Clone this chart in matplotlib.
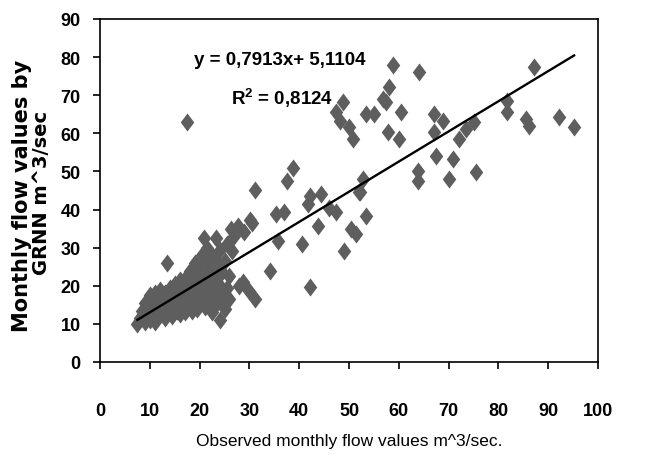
import matplotlib
matplotlib.use("Agg")
import matplotlib.pyplot as plt
import numpy as np
from matplotlib.path import Path

# ---- data ----
obs_low = [7.5, 8.0, 8.5, 9.0, 9.0, 9.5, 10.0, 10.0, 10.0, 10.5, 10.5, 11.0, 11.0, 11.0, 11.5, 11.5,
           12.0, 12.0, 12.0, 12.5, 13.0, 13.0, 13.0, 13.5, 13.5, 14.0, 14.0, 14.5, 14.5, 15.0, 15.0,
           15.5, 15.5, 16.0, 16.0, 16.0, 16.5, 16.5, 17.0, 17.0, 17.4, 17.5, 18.0, 18.0, 18.0, 18.5,
           18.5, 19.0, 19.0, 19.0, 19.5, 19.5, 20.0, 20.0, 20.0, 20.5, 20.8, 21.0, 21.0, 21.0, 21.5,
           21.5, 22.0, 22.0, 22.0, 22.5, 22.5, 23.0, 23.0, 23.3, 23.5, 23.5, 24.0, 24.0, 24.0, 24.5,
           24.5, 25.0, 25.0, 25.5, 25.5, 26.0, 26.0, 26.5, 26.3, 27.0, 27.7, 28.0, 28.8, 29.0, 30.0,
           30.2, 30.6, 31.2, 31.1]
grnn_low = [10.0, 11.5, 13.5, 10.5, 15.5, 12.5, 11.0, 14.0, 17.5, 12.5, 16.0, 10.5, 13.5, 18.0, 15.0, 11.5,
            12.5, 16.5, 19.0, 14.0, 11.5, 15.5, 18.0, 26.0, 13.0, 16.5, 19.5, 12.0, 14.5, 17.5, 20.5,
            13.5, 15.5, 12.5, 18.5, 21.5, 14.5, 16.5, 20.0, 13.0, 62.9, 22.5, 15.5, 17.5, 24.0, 13.5,
            20.0, 16.0, 22.0, 26.0, 18.5, 14.0, 20.5, 24.5, 16.5, 28.0, 32.5, 18.0, 22.5, 14.5, 26.5,
            30.0, 16.0, 20.0, 24.0, 28.0, 13.0, 18.0, 22.0, 32.5, 26.0, 15.5, 11.0, 20.0, 29.5, 17.0,
            23.5, 14.0, 26.5, 19.5, 31.0, 16.5, 22.5, 29.0, 35.0, 33.0, 35.8, 20.0, 21.0, 34.0, 18.5,
            37.2, 36.5, 16.5, 45.2]

obs_mid = [34.2, 35.4, 35.7, 36.9, 37.5, 38.7, 40.6, 41.8, 42.1, 42.1, 43.7, 44.3, 46.0, 47.4,
           48.9, 50.5, 51.5, 52.3, 53.5, 52.8]
grnn_mid = [23.8, 38.8, 31.8, 39.3, 47.5, 51.0, 31.0, 41.5, 19.6, 43.6, 35.8, 44.0, 40.5, 39.3,
            29.2, 34.9, 33.5, 44.5, 38.4, 48.0]

obs_high = [58.8, 64.1, 87.2, 48.8, 47.4, 48.1, 50.1, 50.8, 53.4, 55.1, 57.4, 58.1, 56.8, 60.4,
            57.8, 60.1, 67.1, 68.8, 67.1, 67.5, 70.8, 70.1, 72.1, 73.5, 75.2, 75.5, 81.8, 81.8,
            85.5, 86.2, 92.2, 95.2, 63.8, 63.8, 52.1]
grnn_high = [77.8, 76.0, 77.3, 68.2, 65.5, 63.3, 61.6, 58.5, 65.1, 65.1, 68.2, 72.1, 69.0, 65.5,
             60.3, 58.5, 65.1, 63.3, 60.3, 54.1, 53.3, 48.0, 58.5, 61.2, 62.9, 49.8, 68.6, 65.5,
             63.8, 62.0, 64.2, 61.6, 50.2, 47.6, 44.6]

observed = np.array(obs_low + obs_mid + obs_high)
predicted = np.array(grnn_low + grnn_mid + grnn_high)

slope = 0.7913
intercept = 5.1104
equation = "y = 0,7913x+ 5,1104"
r2_text = "R$^\\mathbf{2}$ = 0,8124"

x_ticks = [0, 10, 20, 30, 40, 50, 60, 70, 80, 90, 100]
y_ticks = [0, 10, 20, 30, 40, 50, 60, 70, 80, 90]

narrow = ['Liberation Sans', 'DejaVu Sans']
plt.rcParams['mathtext.fontset'] = 'custom'
plt.rcParams['mathtext.rm'] = 'Liberation Sans'
plt.rcParams['mathtext.bf'] = 'Liberation Sans:bold'

fig = plt.figure(figsize=(6.49, 4.56), dpi=100)
ax = fig.add_axes([100/649, 1-363/456, 498/649, 343/456])

diamond = Path([(0, 1), (0.75, 0), (0, -1), (-0.75, 0), (0, 1)],
               [Path.MOVETO, Path.LINETO, Path.LINETO, Path.LINETO, Path.CLOSEPOLY])
ax.plot(observed, predicted, linestyle='none', marker=diamond, markersize=13,
        color='#5e5e5e', markeredgewidth=0, zorder=2)

xl = np.array([observed.min(), observed.max()])
ax.plot(xl, slope * xl + intercept, color='black', linewidth=1.7, zorder=3)

ax.text(36, 79.5, equation, ha='center', va='center', fontsize=13.5, fontweight='bold',
        family=narrow)
ax.text(36.5, 69.5, r2_text, ha='center', va='center', fontsize=13.5, fontweight='bold',
        family=narrow)

ax.set_xlim(0, 100)
ax.set_ylim(0, 90)
ax.set_xticks(x_ticks)
ax.set_yticks(y_ticks)
for lab in ax.get_xticklabels() + ax.get_yticklabels():
    lab.set_family(narrow)
    lab.set_fontweight('bold')
    lab.set_fontsize(13)
ax.tick_params(axis='x', direction='out', length=5, width=1.2, pad=24)
ax.tick_params(axis='y', direction='out', length=5, width=1.2, pad=9)
for s in ax.spines.values():
    s.set_linewidth(1.2)

ax.set_xlabel("Observed monthly flow values m^3/sec.", fontsize=12.5, family=narrow, labelpad=10)

fig.text(22/649, 1-196/456, "Monthly flow values by", rotation=90, ha='center', va='center',
         fontsize=15, fontweight='bold', family=['DejaVu Sans'])
fig.text(42/649, 1-193/456, "GRNN m^3/sec", rotation=90, ha='center', va='center',
         fontsize=14, fontweight='bold', family=['DejaVu Sans'])

fig.savefig("out.png", dpi=100)
